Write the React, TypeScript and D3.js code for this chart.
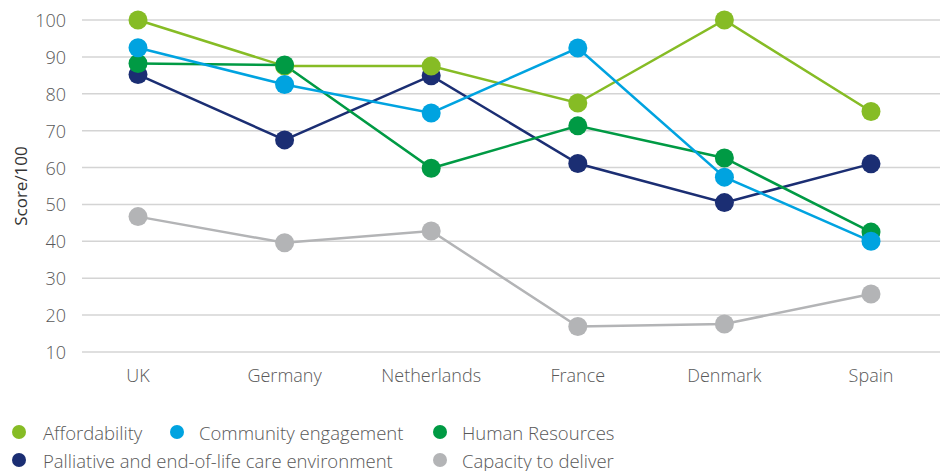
import React from "react";
import * as d3 from "d3";

const countries = ["UK", "Germany", "Netherlands", "France", "Denmark", "Spain"];
const yTicks = [10, 20, 30, 40, 50, 60, 70, 80, 90, 100];

const affordability = [100, 87.5, 87.5, 77.5, 100, 75.2];
const community = [92.5, 82.5, 74.8, 92.4, 57.4, 40];
const humanResources = [88.2, 87.8, 59.8, 71.3, 62.6, 42.5];
const palliative = [85.2, 67.5, 84.9, 61.1, 50.5, 61];
const capacity = [46.7, 39.6, 42.8, 16.9, 17.6, 25.7];

const seriesNames = [
  "Affordability",
  "Community engagement",
  "Human Resources",
  "Palliative and end-of-life care environment",
  "Capacity to deliver",
];

const colors: Record<string, string> = {
  "Affordability": "#86BC25",
  "Community engagement": "#00A3E0",
  "Human Resources": "#009A44",
  "Palliative and end-of-life care environment": "#1B2E73",
  "Capacity to deliver": "#B3B4B6",
};

const seriesData: Record<string, number[]> = {
  "Affordability": affordability,
  "Community engagement": community,
  "Human Resources": humanResources,
  "Palliative and end-of-life care environment": palliative,
  "Capacity to deliver": capacity,
};

const drawOrder = [
  "Capacity to deliver",
  "Palliative and end-of-life care environment",
  "Affordability",
  "Human Resources",
  "Community engagement",
];

const W = 946;
const H = 471;
const font = "'Open Sans', 'Noto Sans', sans-serif";
const textColor = "#595959";

export default function App() {
  const x = d3.scalePoint<string>().domain(countries).range([138, 871]);
  const y = d3.scaleLinear().domain([10, 100]).range([352, 20]);
  const line = d3
    .line<number>()
    .x((_, i) => x(countries[i]) as number)
    .y((v) => y(v));

  const legendItems = [
    { name: seriesNames[0], cx: 19, cy: 432, tx: 43 },
    { name: seriesNames[1], cx: 177, cy: 432, tx: 199 },
    { name: seriesNames[2], cx: 440, cy: 432, tx: 462 },
    { name: seriesNames[3], cx: 19, cy: 460, tx: 43 },
    { name: seriesNames[4], cx: 440, cy: 460, tx: 462 },
  ];

  return (
    <svg
      width={W}
      height={H}
      style={{ position: "absolute", left: 0, top: 0, background: "#fff" }}
      fontFamily={font}
    >
      {yTicks.map((t) => (
        <g key={t}>
          <line x1={82} x2={940} y1={y(t)} y2={y(t)} stroke="#D4D4D4" strokeWidth={1.5} />
          <text
            x={66}
            y={y(t)}
            textAnchor="end"
            dominantBaseline="central"
            fontSize={18}
            fontWeight={300}
            fill={textColor}
          >
            {t}
          </text>
        </g>
      ))}
      <text
        transform={`translate(20,186) rotate(-90)`}
        textAnchor="middle"
        dominantBaseline="central"
        fontSize={17}
        fill="#333"
      >
        Score/100
      </text>
      {countries.map((c) => (
        <text
          key={c}
          x={x(c)}
          y={375}
          textAnchor="middle"
          dominantBaseline="central"
          fontSize={18}
          fontWeight={300}
          fill={textColor}
        >
          {c}
        </text>
      ))}
      {drawOrder.map((name) => (
        <path
          key={name}
          d={line(seriesData[name]) as string}
          fill="none"
          stroke={colors[name]}
          strokeWidth={2.5}
        />
      ))}
      {drawOrder.map((name) => (
        <g key={name + "-pts"}>
          {seriesData[name].map((v, i) => (
            <circle
              key={i}
              cx={x(countries[i])}
              cy={y(v)}
              r={9.5}
              fill={colors[name]}
            />
          ))}
        </g>
      ))}
      {legendItems.map((it) => (
        <g key={it.name}>
          <circle cx={it.cx} cy={it.cy} r={7} fill={colors[it.name]} />
          <text
            x={it.tx}
            y={it.cy}
            dominantBaseline="central"
            fontSize={18.5}
            fontWeight={300}
            fill={textColor}
          >
            {it.name}
          </text>
        </g>
      ))}
    </svg>
  );
}
